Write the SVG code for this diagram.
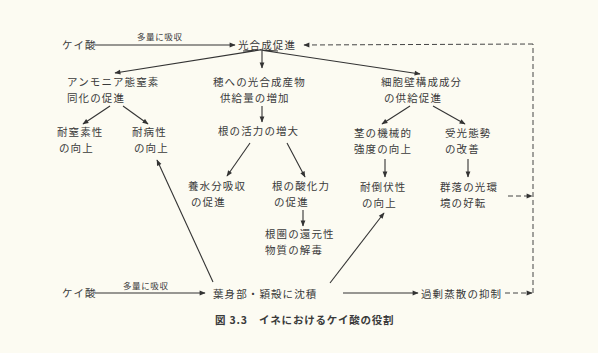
<svg xmlns="http://www.w3.org/2000/svg" width="598" height="353" viewBox="0 0 598 353">
<defs>
<style>
text{font-family:"Noto Sans CJK JP","Noto Sans CJK SC",sans-serif;font-size:10.5px;fill:#3a3a3a;letter-spacing:1.1px}
.small{font-size:8.5px;letter-spacing:0.6px}
.cap{font-size:10.5px;font-weight:bold;letter-spacing:0.8px}
.ln{stroke:#333;stroke-width:1.1;fill:none}
.ds{stroke:#444;stroke-width:1;fill:none;stroke-dasharray:5,3}
</style>
<marker id="ah" viewBox="0 0 10 10" refX="9" refY="5" markerWidth="7" markerHeight="6" orient="auto" markerUnits="userSpaceOnUse"><path d="M0,1 L10,5 L0,9 Z" fill="#333"/></marker>
</defs>
<rect width="598" height="353" fill="#fcfbf2"/>
<g id="connectors">
<line class="ln" x1="95" y1="45" x2="235" y2="45" marker-end="url(#ah)"/>
<polyline class="ln" points="243,51 260,50 115,73" marker-end="url(#ah)"/>
<polyline class="ln" points="278,51 260,50 420,74" marker-end="url(#ah)"/>
<line class="ln" x1="262" y1="51" x2="262" y2="68" marker-end="url(#ah)"/>
<line class="ln" x1="110" y1="106" x2="83" y2="124" marker-end="url(#ah)"/>
<line class="ln" x1="123" y1="106" x2="148" y2="124" marker-end="url(#ah)"/>
<line class="ln" x1="262" y1="106" x2="262" y2="122" marker-end="url(#ah)"/>
<line class="ln" x1="410" y1="106" x2="382" y2="124" marker-end="url(#ah)"/>
<line class="ln" x1="433" y1="106" x2="465" y2="124" marker-end="url(#ah)"/>
<line class="ln" x1="250" y1="143" x2="227" y2="176" marker-end="url(#ah)"/>
<line class="ln" x1="287" y1="143" x2="305" y2="177" marker-end="url(#ah)"/>
<line class="ln" x1="385" y1="159" x2="385" y2="177" marker-end="url(#ah)"/>
<line class="ln" x1="468" y1="159" x2="468" y2="177" marker-end="url(#ah)"/>
<line class="ln" x1="303" y1="210" x2="303" y2="226" marker-end="url(#ah)"/>
<line class="ln" x1="213" y1="282" x2="157" y2="160" marker-end="url(#ah)"/>
<line class="ln" x1="330" y1="283" x2="384" y2="213" marker-end="url(#ah)"/>
<line class="ln" x1="95" y1="293" x2="205" y2="293" marker-end="url(#ah)"/>
<line class="ln" x1="343" y1="293" x2="418" y2="293" marker-end="url(#ah)"/>
<line class="ds" x1="505" y1="293" x2="532" y2="293" marker-end="url(#ah)"/>
<line class="ds" x1="533" y1="293" x2="533" y2="44"/>
<line class="ds" x1="533" y1="44" x2="304" y2="45" marker-end="url(#ah)"/>
<line class="ds" x1="508" y1="196" x2="532" y2="196" marker-end="url(#ah)"/>
</g>
<g id="n-keisan1"><text x="62" y="49">ケイ酸</text></g>
<g id="l-kyushu1"><text class="small" x="137" y="40">多量に吸収</text></g>
<g id="n-kogosei"><text x="238" y="49">光合成促進</text></g>
<g id="n-ammonia"><text x="67" y="86">アンモニア態窒素</text><text x="67" y="101.5">同化の促進</text></g>
<g id="n-ho"><text x="213" y="86">穂への光合成産物</text><text x="220" y="101.5">供給量の増加</text></g>
<g id="n-saibo"><text x="381" y="86">細胞壁構成成分</text><text x="384" y="101.5">の供給促進</text></g>
<g id="n-taichisso"><text x="57" y="136">耐窒素性</text><text x="59" y="151.5">の向上</text></g>
<g id="n-taibyo"><text x="132" y="136">耐病性</text><text x="134" y="151.5">の向上</text></g>
<g id="n-ne"><text x="218" y="135">根の活力の増大</text></g>
<g id="n-kuki"><text x="354" y="137">茎の機械的</text><text x="354" y="152.5">強度の向上</text></g>
<g id="n-juko"><text x="445" y="137">受光態勢</text><text x="445" y="152.5">の改善</text></g>
<g id="n-yosui"><text x="188" y="190">養水分吸収</text><text x="191" y="205.5">の促進</text></g>
<g id="n-sanka"><text x="272" y="190">根の酸化力</text><text x="274" y="205.5">の促進</text></g>
<g id="n-taito"><text x="360" y="191">耐倒伏性</text><text x="362" y="206.5">の向上</text></g>
<g id="n-gunraku"><text x="440" y="191">群落の光環</text><text x="440" y="206.5">境の好転</text></g>
<g id="n-konken"><text x="265" y="238">根圏の還元性</text><text x="265" y="253.5">物質の解毒</text></g>
<g id="n-keisan2"><text x="62" y="297">ケイ酸</text></g>
<g id="l-kyushu2"><text class="small" x="123" y="289">多量に吸収</text></g>
<g id="n-chinseki"><text x="213" y="298">葉身部・穎殻に沈積</text></g>
<g id="n-josan"><text x="421" y="298">過剰蒸散の抑制</text></g>
<g id="caption"><text class="cap" x="215" y="324">図 3.3　イネにおけるケイ酸の役割</text></g>
</svg>
